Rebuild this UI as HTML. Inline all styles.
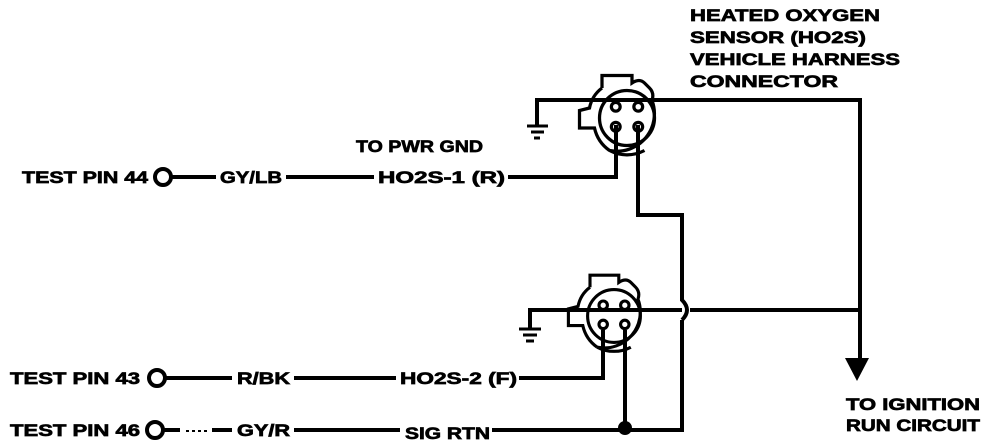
<!DOCTYPE html>
<html><head><meta charset="utf-8"><style>
html,body{margin:0;padding:0;background:#fff;}
svg{display:block;}
text{font-family:"Liberation Sans",Arial,sans-serif;font-weight:bold;fill:#000;stroke:#000;stroke-width:0.7px;}
</style></head><body>
<svg width="1008" height="448" viewBox="0 0 1008 448" xmlns="http://www.w3.org/2000/svg">
<g font-size="17">
<text x="690" y="21" textLength="190" lengthAdjust="spacingAndGlyphs">HEATED OXYGEN</text>
<text x="690" y="43" textLength="176" lengthAdjust="spacingAndGlyphs">SENSOR (HO2S)</text>
<text x="690" y="65" textLength="210" lengthAdjust="spacingAndGlyphs">VEHICLE HARNESS</text>
<text x="690" y="87" textLength="148" lengthAdjust="spacingAndGlyphs">CONNECTOR</text>
</g>
<g font-size="17">
<text x="22" y="183" textLength="126" lengthAdjust="spacingAndGlyphs">TEST PIN 44</text>
<text x="220" y="183" textLength="62" lengthAdjust="spacingAndGlyphs">GY/LB</text>
<text x="378" y="183" textLength="127" lengthAdjust="spacingAndGlyphs">HO2S-1 (R)</text>
<text x="356" y="152" textLength="127" lengthAdjust="spacingAndGlyphs">TO PWR GND</text>
<text x="10" y="384" textLength="130" lengthAdjust="spacingAndGlyphs">TEST PIN 43</text>
<text x="237" y="384" textLength="53" lengthAdjust="spacingAndGlyphs">R/BK</text>
<text x="400" y="384" textLength="117" lengthAdjust="spacingAndGlyphs">HO2S-2 (F)</text>
<text x="10" y="436" textLength="130" lengthAdjust="spacingAndGlyphs">TEST PIN 46</text>
<text x="237" y="436" textLength="53" lengthAdjust="spacingAndGlyphs">GY/R</text>
<text x="405" y="439" textLength="85" lengthAdjust="spacingAndGlyphs">SIG RTN</text>
<text x="846" y="410" textLength="134" lengthAdjust="spacingAndGlyphs">TO IGNITION</text>
<text x="846" y="431" textLength="134" lengthAdjust="spacingAndGlyphs">RUN CIRCUIT</text>
</g>
<g fill="none" stroke="#000" stroke-width="4">
<circle cx="163" cy="177" r="8"/>
<circle cx="157" cy="378" r="8"/>
<circle cx="155" cy="430" r="8"/>
<line x1="171" y1="177" x2="216" y2="177"/>
<line x1="286" y1="177" x2="374" y2="177"/>
<polyline points="508,177 616,177 616,125"/>
<line x1="165" y1="378" x2="232" y2="378"/>
<line x1="294" y1="378" x2="396" y2="378"/>
<polyline points="519,378 603,378 603,330"/>
<line x1="163" y1="430" x2="180" y2="430"/>
<line x1="186" y1="431" x2="210" y2="431" stroke-width="2" stroke-dasharray="3,3"/>
<line x1="212" y1="430" x2="232" y2="430"/>
<line x1="294" y1="430" x2="400" y2="430"/>
<polyline points="492,430 682,430 682,320"/>
<path d="M682,320 Q692,310 682,300 L682,215 L638,215 L638,125"/>
<line x1="625" y1="330" x2="625" y2="430"/>
<polyline points="537,125 537,100 860,100 860,358"/>
<polyline points="530,328 530,310 682,310"/>
<line x1="690" y1="310" x2="860" y2="310"/>
</g>
<circle cx="625" cy="428" r="7" fill="#000"/>
<g stroke="#000" stroke-width="3">
<line x1="527" y1="126" x2="548" y2="126"/>
<line x1="531" y1="132" x2="544" y2="132"/>
<line x1="534" y1="138" x2="540" y2="138"/>
<line x1="519" y1="329" x2="541" y2="329"/>
<line x1="523" y1="335" x2="537" y2="335"/>
<line x1="526" y1="341" x2="534" y2="341"/>
</g>
<polygon points="845,358 869,358 857,381" fill="#000"/>
<g fill="none" stroke="#000" stroke-width="2.6">
<g transform="translate(627,118) scale(1.25)">
<path d="M-20,-24 L-20,-34 L4,-34 L4,-28 Q10,-32 14,-28 L18,-24 Q22,-20 20,-14 A30,30 0 0 1 -14,26 M14,26 A30,30 0 0 1 -14,26 M-14,26 A30,30 0 0 1 -26,8 L-38,8 L-38,-6 L-30,-8 Q-28,-18 -20,-24"/>
<circle cx="0" cy="0" r="22"/>
<circle cx="-9" cy="-9" r="3.5"/><circle cx="9" cy="-9" r="3.5"/>
<circle cx="-9" cy="7" r="3.5"/><circle cx="9" cy="7" r="3.5"/>
</g>
<g transform="translate(614,316) scale(1.2)">
<path d="M-20,-24 L-20,-34 L4,-34 L4,-28 Q10,-32 14,-28 L18,-24 Q22,-20 20,-14 A30,30 0 0 1 -14,26 M14,26 A30,30 0 0 1 -14,26 M-14,26 A30,30 0 0 1 -26,8 L-38,8 L-38,-6 L-30,-8 Q-28,-18 -20,-24"/>
<circle cx="0" cy="0" r="22"/>
<circle cx="-9" cy="-9" r="3.5"/><circle cx="9" cy="-9" r="3.5"/>
<circle cx="-9" cy="7" r="3.5"/><circle cx="9" cy="7" r="3.5"/>
</g>
</g>
</svg>
</body></html>
